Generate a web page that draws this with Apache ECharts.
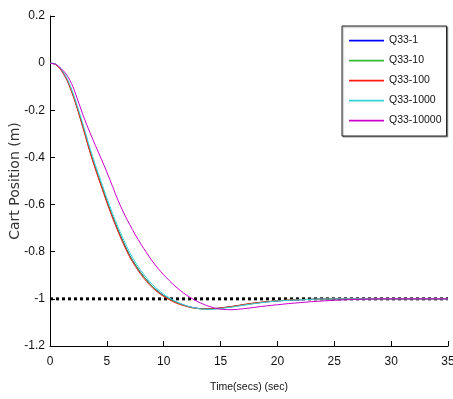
<!DOCTYPE html>
<html>
<head>
<meta charset="utf-8">
<script src="https://cdn.jsdelivr.net/npm/echarts@6/dist/echarts.min.js"></script>
<style>
  html, body { margin: 0; padding: 0; background: #fff; }
  #chart { width: 453px; height: 399px; }
</style>
</head>
<body>
<div id="chart"></div>
<script>
// time samples (sec)
const timeSecs = [0, 0.5, 1, 1.5, 2, 2.5, 3, 3.5, 4, 4.5, 5, 5.5, 6, 6.5, 7, 7.5, 8, 8.5, 9, 9.5,
  10, 10.5, 11, 11.5, 12, 12.5, 13, 13.5, 14, 14.5, 15, 16, 17, 18, 19, 20, 21, 22, 23, 24,
  25, 26, 27, 28, 29, 30, 31, 32, 33, 34, 35];

const q33_1 = [0, -0.005, -0.03, -0.07, -0.13, -0.205, -0.285, -0.37, -0.445, -0.515,
  -0.585, -0.65, -0.71, -0.765, -0.815, -0.855, -0.89, -0.92, -0.947, -0.968,
  -0.986, -1.0, -1.012, -1.022, -1.03, -1.036, -1.04, -1.042, -1.042, -1.041,
  -1.039, -1.033, -1.026, -1.019, -1.013, -1.009, -1.006, -1.004, -1.002, -1.001,
  -1.0, -1.0, -1.0, -1.0, -1.0, -1.0, -1.0, -1.0, -1.0, -1.0, -1.0];

const q33_10 = [0, -0.005, -0.03, -0.071, -0.131, -0.206, -0.286, -0.371, -0.446, -0.516,
  -0.586, -0.651, -0.711, -0.766, -0.816, -0.856, -0.891, -0.921, -0.948, -0.969,
  -0.987, -1.001, -1.013, -1.023, -1.031, -1.037, -1.041, -1.043, -1.042, -1.041,
  -1.039, -1.033, -1.025, -1.018, -1.013, -1.008, -1.005, -1.003, -1.002, -1.001,
  -1.0, -1.0, -1.0, -1.0, -1.0, -1.0, -1.0, -1.0, -1.0, -1.0, -1.0];

const q33_100 = [0, -0.006, -0.032, -0.074, -0.135, -0.21, -0.292, -0.376, -0.452, -0.522,
  -0.592, -0.657, -0.717, -0.772, -0.822, -0.862, -0.897, -0.927, -0.953, -0.973,
  -0.99, -1.004, -1.016, -1.025, -1.032, -1.038, -1.041, -1.043, -1.043, -1.041,
  -1.038, -1.032, -1.024, -1.017, -1.012, -1.008, -1.005, -1.003, -1.002, -1.001,
  -1.0, -1.0, -1.0, -1.0, -1.0, -1.0, -1.0, -1.0, -1.0, -1.0, -1.0];

const q33_1000 = [0, -0.004, -0.027, -0.065, -0.124, -0.196, -0.275, -0.358, -0.433, -0.503,
  -0.572, -0.637, -0.697, -0.752, -0.802, -0.844, -0.88, -0.911, -0.939, -0.961,
  -0.98, -0.996, -1.009, -1.02, -1.029, -1.036, -1.041, -1.044, -1.045, -1.044,
  -1.041, -1.035, -1.027, -1.02, -1.014, -1.009, -1.006, -1.004, -1.002, -1.001,
  -1.0, -1.0, -1.0, -1.0, -1.0, -1.0, -1.0, -1.0, -1.0, -1.0, -1.0];

const q33_10000 = [0, -0.005, -0.024, -0.052, -0.098, -0.165, -0.233, -0.293, -0.35, -0.405,
  -0.462, -0.523, -0.584, -0.637, -0.684, -0.728, -0.768, -0.805, -0.84, -0.871,
  -0.898, -0.923, -0.946, -0.966, -0.984, -0.999, -1.012, -1.023, -1.032, -1.039,
  -1.044, -1.046, -1.042, -1.036, -1.03, -1.025, -1.02, -1.016, -1.012, -1.009,
  -1.006, -1.004, -1.002, -1.001, -1.0, -1.0, -1.0, -1.0, -1.0, -1.0, -1.0];

// reference line at the target position
const refX = [0, 35];
const refY = [-1, -1];

const seriesNames = ['Q33-1', 'Q33-10', 'Q33-100', 'Q33-1000', 'Q33-10000'];
const seriesValues = [q33_1, q33_10, q33_100, q33_1000, q33_10000];
const seriesColors = ['#0000ff', '#33bb33', '#ff1a1a', '#33d6d6', '#cc00cc'];

const sans = "'Liberation Sans', Arial, sans-serif";

const chart = echarts.init(document.getElementById('chart'), null, { renderer: 'canvas' });

const lines = seriesNames.map((name, i) => ({
  name: name,
  type: 'line',
  data: timeSecs.map((t, j) => [t, seriesValues[i][j]]),
  symbol: 'none',
  smooth: 0.3,
  color: seriesColors[i],
  lineStyle: { width: 1, color: seriesColors[i] },
  z: 3
}));

lines.push({
  name: 'ref',
  type: 'line',
  data: refX.map((x, j) => [x, refY[j]]),
  symbol: 'none',
  lineStyle: { width: 3, color: '#000', type: [3, 3] },
  z: 2
});

chart.setOption({
  animation: false,
  backgroundColor: '#fff',
  grid: { left: 50, right: 5, top: 16, bottom: 53, containLabel: false, outerBoundsMode: 'none' },
  legend: {
    data: seriesNames,
    orient: 'vertical',
    left: 342,
    top: 26,
    padding: [9, 5, 10, 7],
    itemWidth: 35,
    itemHeight: 14,
    itemGap: 9,
    icon: 'path://M0 0H120V6H0Z',
    borderColor: '#222',
    borderWidth: 1,
    backgroundColor: '#fff',
    shadowColor: 'rgba(0,0,0,0.35)',
    shadowOffsetX: 1,
    shadowOffsetY: 1,
    shadowBlur: 1,
    textStyle: { fontFamily: sans, fontSize: 10.5, color: '#111' }
  },
  xAxis: {
    type: 'value',
    min: 0,
    max: 35,
    interval: 5,
    name: 'Time(secs) (sec)',
    nameLocation: 'middle',
    nameGap: 36,
    nameMoveOverlap: false,
    nameTextStyle: { fontFamily: sans, fontSize: 10.5, color: '#111' },
    axisLine: { onZero: false, lineStyle: { color: '#000', width: 1 } },
    axisTick: { inside: true, length: 5, lineStyle: { color: '#000' } },
    axisLabel: { fontFamily: sans, fontSize: 12, color: '#111', margin: 10 },
    splitLine: { show: false }
  },
  yAxis: {
    type: 'value',
    min: -1.2,
    max: 0.2,
    interval: 0.2,
    name: 'Cart Position (m)',
    nameLocation: 'middle',
    nameGap: 28,
    nameMoveOverlap: false,
    nameTextStyle: { fontFamily: "'DejaVu Sans', sans-serif", fontSize: 14, color: '#333' },
    axisLine: { onZero: false, lineStyle: { color: '#000', width: 1 } },
    axisTick: { inside: true, length: 5, lineStyle: { color: '#000' } },
    axisLabel: { fontFamily: sans, fontSize: 12, color: '#111', margin: 5 },
    splitLine: { show: false }
  },
  series: lines
});
</script>
</body>
</html>
